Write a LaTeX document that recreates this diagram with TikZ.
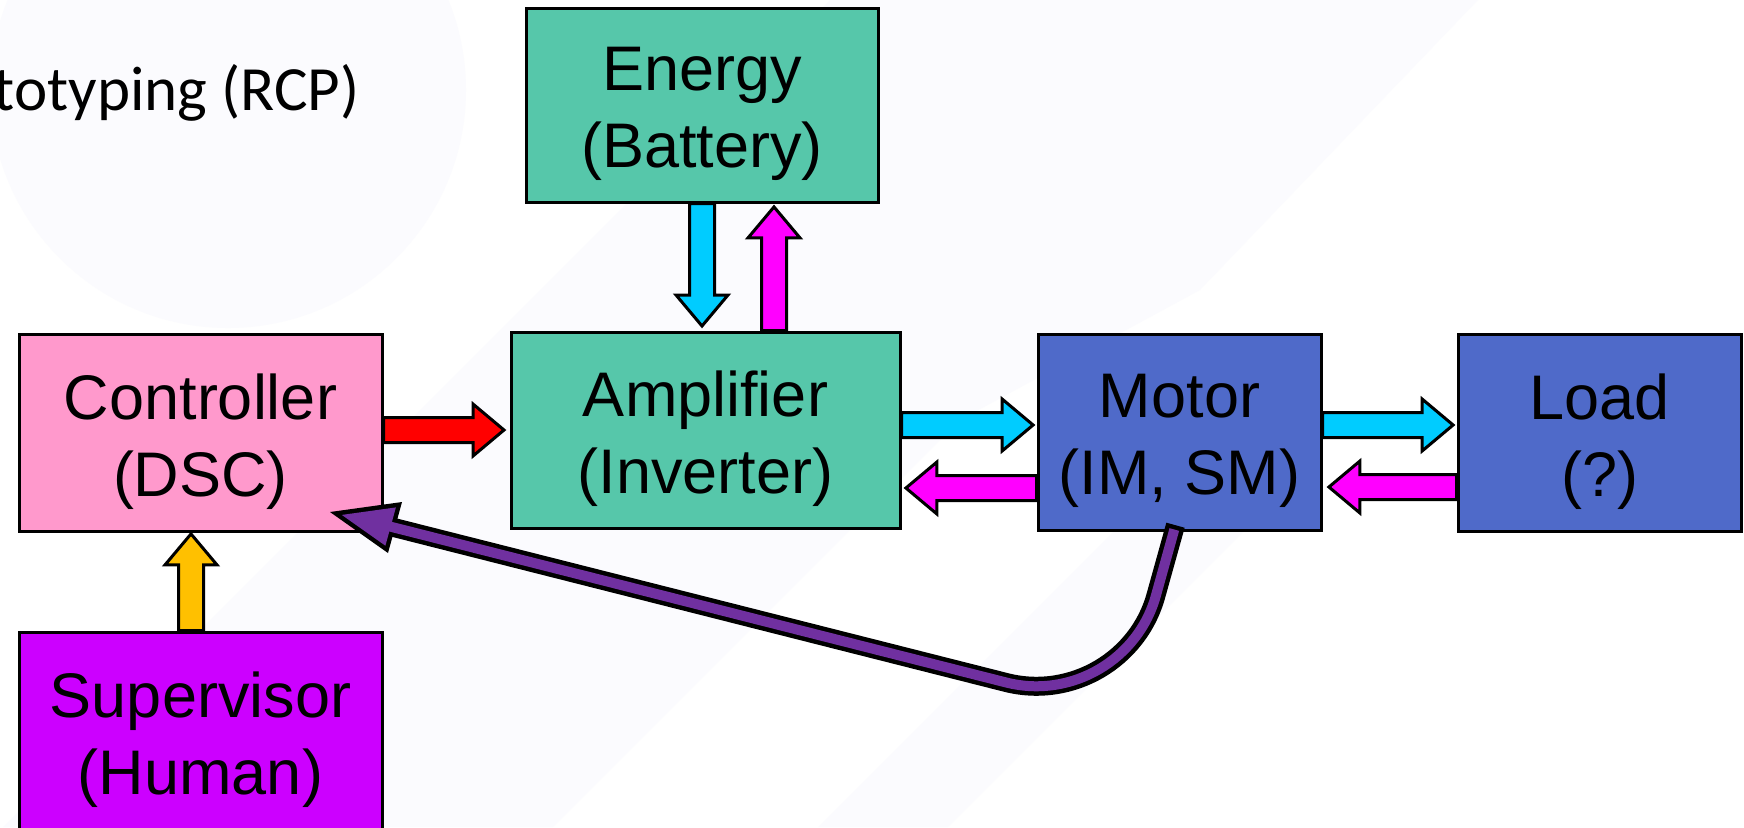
\documentclass[tikz,border=0pt]{standalone}
\usepackage{fontspec}
\setmainfont{Liberation Sans}
\newfontfamily\titlefont{Carlito}
\usetikzlibrary{calc}
\definecolor{pinkC}{RGB}{255,153,204}
\definecolor{tealC}{RGB}{86,199,170}
\definecolor{blueC}{RGB}{79,106,201}
\definecolor{violetC}{RGB}{204,0,255}
\definecolor{cyanC}{RGB}{0,204,255}
\definecolor{magC}{RGB}{255,0,255}
\definecolor{redC}{RGB}{255,0,0}
\definecolor{yellowC}{RGB}{255,192,0}
\definecolor{purpC}{RGB}{112,48,160}
\definecolor{faintC}{RGB}{251,251,254}
\tikzset{
  box/.style={draw=black, line width=1.5pt, inner sep=0pt, rectangle},
  lbl/.style={font=\fontsize{31.5}{38.5}\selectfont, align=center, inner sep=0pt},
  blockarrow/.style={draw=black, line width=1.5pt, line join=miter},
  faint/.style={fill=faintC},
}
\newcommand\fatarrow[3]{% #1 colour, #2 start, #3 tip
  \coordinate (faN) at ($(#3)!15.5pt!(#2)$);
  \draw[blockarrow, fill=#1]
    ($(#2)!6.25pt!90:(#3)$) -- ($(faN)!6.25pt!90:(#3)$) -- ($(faN)!13pt!90:(#3)$) -- (#3)
    -- ($(faN)!13pt!-90:(#3)$) -- ($(faN)!6.25pt!-90:(#3)$) -- ($(#2)!6.25pt!-90:(#3)$) -- cycle;
}
\begin{document}
\begin{tikzpicture}[x=0.5pt, y=-0.5pt]
\useasboundingbox (0,0) rectangle (1744,827);
\fill[white] (0,0) rectangle (1744,827);
% faint background watermark
\fill[faint] (228,90) circle[radius=238];
\fill[faint] (830,0) -- (1478,0) -- (1200,290) -- (960,420) -- (553,827) -- (3,827) -- cycle;
\fill[faint] (1145,500) -- (1275,500) -- (948,827) -- (818,827) -- cycle;

\node[anchor=base east, font=\titlefont\fontsize{31.5}{38}\selectfont, inner sep=0pt] (title) at (360,110) {totyping (RCP)};

% boxes
\node[box, fill=tealC, minimum width=176pt, minimum height=97pt] (energy) at (702,105) {};
\node[box, fill=tealC, minimum width=194.5pt, minimum height=98pt] (amp) at (705.5,430) {};
\node[box, fill=pinkC, minimum width=181.5pt, minimum height=98.5pt] (ctrl) at (200.5,432.5) {};
\node[box, fill=blueC, minimum width=141.5pt, minimum height=98pt] (motor) at (1179.5,432) {};
\node[box, fill=blueC, minimum width=141.5pt, minimum height=98.5pt] (load) at (1599.5,432.5) {};
\node[box, fill=violetC, minimum width=181.5pt, minimum height=99pt] (sup) at (200.5,731) {};

% labels
\node[lbl] (energyT) at ([yshift=-4.35pt]energy.center) {Energy\\(Battery)};
\node[lbl] (ampT) at ([yshift=-4.35pt]amp.center) {Amplifier\\(Inverter)};
\node[lbl] (ctrlT) at ([yshift=-4.35pt]ctrl.center) {Controller\\(DSC)};
\node[lbl] (motorT) at ([yshift=-4.35pt]motor.center) {Motor\\(IM, SM)};
\node[lbl] (loadT) at ([yshift=-4.35pt]load.center) {Load\\(?)};
\node[lbl] (supT) at ([yshift=-4.35pt]sup.center) {Supervisor\\(Human)};

% arrow end points
\coordinate (r1) at ([yshift=1.25pt]ctrl.east);
\coordinate (r2) at ([xshift=-2.75pt]amp.west |- r1);
\coordinate (c1) at (energy.south);
\coordinate (c2) at ([yshift=2.25pt]c1 |- amp.north);
\coordinate (m1) at ([xshift=36pt]energy.south |- amp.north);
\coordinate (m2) at ([xshift=36pt,yshift=-1.7pt]energy.south);
\coordinate (ac1) at ([yshift=2.5pt]amp.east);
\coordinate (ac2) at ([xshift=-1.7pt]motor.west |- ac1);
\coordinate (am1) at ([yshift=-28pt]motor.west);
\coordinate (am2) at ([xshift=2.2pt]amp.east |- am1);
\coordinate (ml1) at ([yshift=3.5pt]motor.east);
\coordinate (ml2) at ([xshift=-1.7pt]load.west |- ml1);
\coordinate (lm1) at ([yshift=-27.25pt]load.west);
\coordinate (lm2) at ([xshift=3.2pt]motor.east |- lm1);
\coordinate (y1) at ([xshift=-4.75pt]sup.north);
\coordinate (y2) at ([yshift=-0.7pt]y1 |- ctrl.south);

\fatarrow{redC}{r1}{r2}
\fatarrow{cyanC}{c1}{c2}
\fatarrow{magC}{m1}{m2}
\fatarrow{cyanC}{ac1}{ac2}
\fatarrow{magC}{am1}{am2}
\fatarrow{cyanC}{ml1}{ml2}
\fatarrow{magC}{lm1}{lm2}
\fatarrow{yellowC}{y1}{y2}

% feedback arrow motor -> controller
\coordinate (pS) at ([xshift=-2.6pt,yshift=1pt]motor.south);
\coordinate (pSb) at ([xshift=-2pt,yshift=3.15pt]motor.south);
\coordinate (pA) at (1156.2,594.5);
\coordinate (pB) at (1006.3,682.5);
\coordinate (pE) at (388,526);
\coordinate (hT) at (330,512);
\coordinate (hC1) at (402,502);
\coordinate (hC2) at (388,553);
\coordinate (iT) at (341.8,514.9);
\coordinate (iC1) at (395.9,507.4);
\coordinate (iC2) at (385.4,545.7);
\draw[black, line width=9.5pt] (pSb) -- (pA) .. controls (1138.8,659.6) and (1071.6,699) .. (pB) -- (pE);
\fill[black] (hT) -- (hC1) -- (hC2) -- cycle;
\draw[purpC, line width=5pt] (pS) -- (pA) .. controls (1138.8,659.6) and (1071.6,699) .. (pB) -- (pE);
\fill[purpC] (iT) -- (iC1) -- (iC2) -- cycle;
\end{tikzpicture}
\end{document}
